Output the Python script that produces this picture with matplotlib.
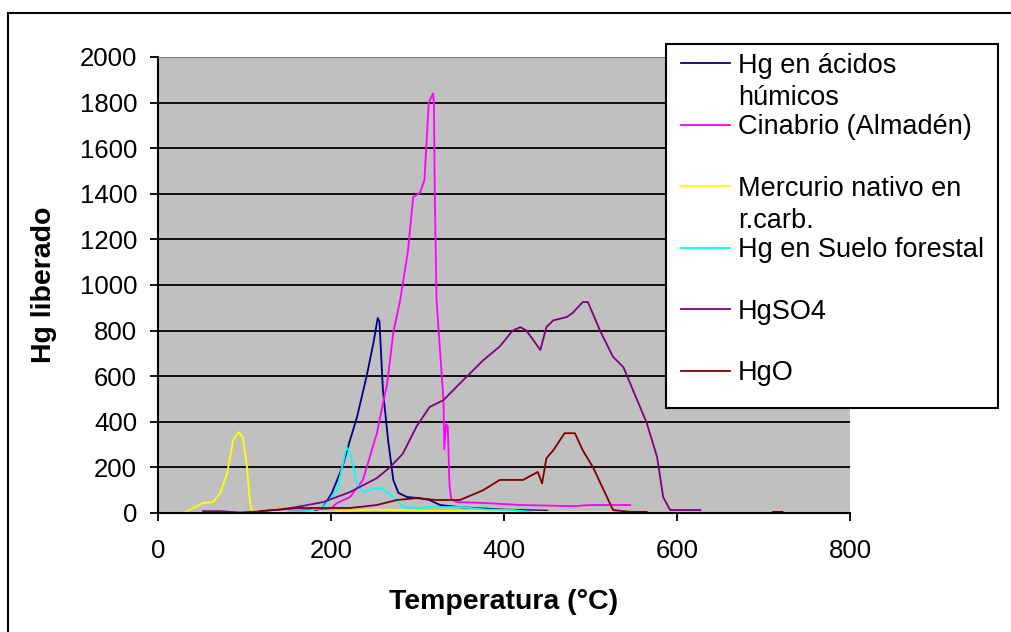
import matplotlib
matplotlib.use("Agg")
import matplotlib.pyplot as plt
import numpy as np
from matplotlib.patches import Rectangle
from matplotlib.lines import Line2D
from matplotlib.text import Annotation

plt.rcParams['font.family'] = ['Liberation Sans', 'DejaVu Sans']

# --- datos (Temperatura en ºC, Hg liberado) ---
acidos_t = [175, 191, 201, 213, 222, 230, 241, 249, 254, 256, 260, 266, 272, 278, 288, 303, 314, 326, 350, 400, 450]
acidos_v = [0, 26, 88, 200, 320, 420, 597, 745, 855, 840, 540, 320, 145, 88, 70, 65, 57, 35, 25, 15, 10]

cinabrio_t = [150, 175, 200, 207, 222, 237, 253, 265, 272, 280, 289, 295, 303, 308, 313, 318, 319, 320, 322,
              326, 330, 331, 333, 335, 337, 339, 345, 376, 420, 480, 500, 546]
cinabrio_v = [5, 15, 20, 44, 70, 145, 350, 570, 790, 935, 1150, 1385, 1405, 1460, 1800, 1840, 1800, 1400, 935,
              715, 495, 280, 390, 380, 120, 60, 48, 44, 35, 30, 35, 35]

nativo_t = [29, 40, 52, 64, 72, 80, 87, 93, 98, 103, 106, 108, 130, 200, 250, 300, 350, 400, 450, 500, 526]
nativo_v = [0, 20, 44, 48, 88, 175, 320, 355, 333, 200, 57, 13, 5, 5, 15, 10, 8, 8, 5, 5, 5]

suelo_t = [150, 175, 191, 207, 214, 218, 222, 226, 230, 237, 248, 257, 265, 276, 283, 300, 318, 349, 380, 410, 430]
suelo_v = [5, 10, 25, 100, 220, 290, 260, 200, 130, 92, 105, 110, 92, 57, 26, 22, 26, 26, 15, 13, 5]

hgso4_t = [52, 72, 95, 118, 140, 160, 191, 222, 253, 268, 283, 299, 314, 330, 345, 376, 395, 410, 419, 426,
           442, 449, 457, 473, 480, 491, 497, 511, 526, 538, 549, 565, 577, 584, 592, 627]
hgso4_v = [8, 8, 2, 8, 15, 26, 48, 92, 153, 200, 260, 380, 465, 495, 553, 670, 730, 800, 815, 800,
           715, 815, 845, 860, 880, 925, 925, 800, 685, 640, 540, 395, 245, 70, 13, 13]

hgo_t = [118, 164, 222, 253, 276, 299, 322, 349, 376, 395, 422, 439, 444, 449, 457, 470, 482, 491, 503, 519,
         526, 546, 565, 600, 711, 722]
hgo_v = [8, 22, 22, 35, 57, 65, 57, 57, 100, 145, 145, 180, 130, 240, 275, 350, 350, 275, 200, 70,
         13, 5, 5, np.nan, 5, 5]

series = [
    ("Hg en ácidos", "húmicos", acidos_t, acidos_v, "#000080"),
    ("Cinabrio (Almadén)", None, cinabrio_t, cinabrio_v, "#ff00ff"),
    ("Mercurio nativo en", "r.carb.", nativo_t, nativo_v, "#ffff00"),
    ("Hg en Suelo forestal", None, suelo_t, suelo_v, "#00ffff"),
    ("HgSO4", None, hgso4_t, hgso4_v, "#800080"),
    ("HgO", None, hgo_t, hgo_v, "#800000"),
]

W, H = 1011, 632
fig = plt.figure(figsize=(W / 100, H / 100), dpi=100)
ax = fig.add_axes([158 / W, 1 - 513 / H, (850 - 158) / W, (513 - 57) / H])
ax.set_facecolor("#c0c0c0")

for nombre, extra, t, v, c in series:
    ax.plot(t, v, color=c, lw=1.3, label=nombre)

ax.set_xlim(0, 800)
ax.set_ylim(0, 2000)
ax.set_xticks(np.arange(0, 801, 200))
ax.set_yticks(np.arange(0, 2001, 200))
ax.yaxis.grid(True, color="black", lw=1.3)
ax.set_axisbelow(True)
ax.tick_params(direction="out", length=6, width=1.3, labelsize=18.5, color="black")
ax.tick_params(axis="y", pad=9)
ax.tick_params(axis="x", pad=13)
for s in ["left", "bottom"]:
    ax.spines[s].set_linewidth(1.5)
    ax.spines[s].set_zorder(3)
ax.spines["right"].set_visible(False)
ax.spines["top"].set_color("#808080")
ax.spines["top"].set_zorder(3)

ax.set_xlabel("Temperatura (°C)", fontsize=20.5, fontweight="bold")
ax.set_ylabel("Hg liberado", fontsize=20.5, fontweight="bold")
ax.xaxis.set_label_coords(0.5, -(602 - 513) / 456)
ax.xaxis.label.set_va("center")
ax.yaxis.set_label_coords((44 - 158) / 692, 0.5)
ax.yaxis.label.set_va("center")
ax.yaxis.label.set_ha("center")

# borde exterior del area del grafico
fig.add_artist(Line2D([8 / W, 8 / W], [0, 1 - 13 / H], transform=fig.transFigure, color="black", lw=1.5))
fig.add_artist(Line2D([8 / W, 1], [1 - 13 / H, 1 - 13 / H], transform=fig.transFigure, color="black", lw=1.5))

# caja de la leyenda
caja = Rectangle((666 / W, 1 - 408 / H), (998 - 666) / W, (408 - 44) / H, transform=fig.transFigure,
                 facecolor="white", edgecolor="black", lw=1.5, zorder=4)
fig.add_artist(caja)

leg = fig.legend(loc="upper left", bbox_to_anchor=(662 / W, 1 - 34 / H), bbox_transform=fig.transFigure,
                 frameon=False, fontsize=19.5, handlelength=1.8, handletextpad=0.3, labelspacing=1.31,
                 borderpad=0.2)
leg.set_zorder(5)
for txt, (nombre, extra, t, v, c) in zip(leg.get_texts(), series):
    if extra:
        an = Annotation(extra, xy=(0, 0.5), xycoords=txt, xytext=(0, -32), textcoords="offset pixels",
                        va="center", ha="left", fontsize=19.5, zorder=6)
        fig.add_artist(an)

fig.savefig("out.png", dpi=100)
